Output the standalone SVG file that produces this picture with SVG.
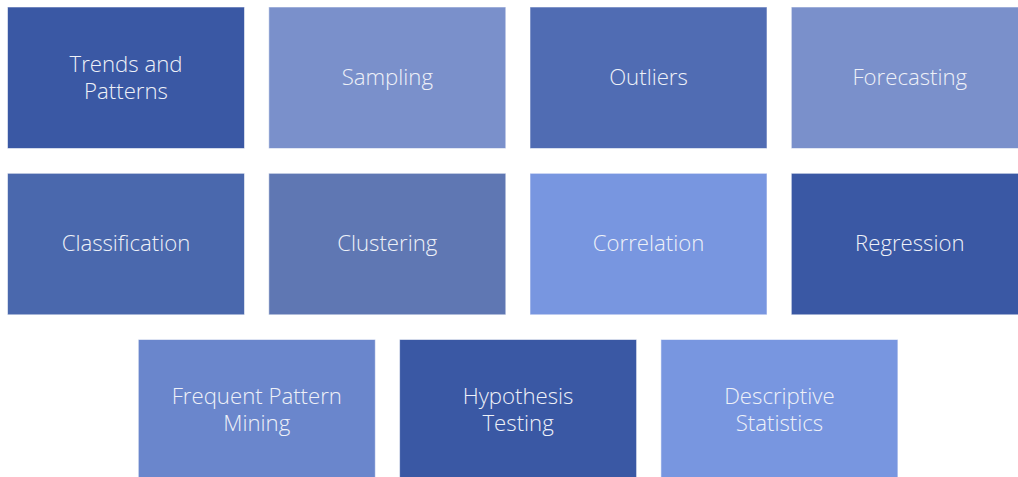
<svg xmlns="http://www.w3.org/2000/svg" width="1018" height="477" viewBox="0 0 1018 477">
  <style>
    .box { stroke: #ffffff; stroke-opacity: 0.55; stroke-width: 1; }
    .lbl { font-family: "Open Sans", "Liberation Sans", sans-serif; font-weight: 300; font-size: 22.2px; fill: #eef1f8; text-anchor: middle; }
  </style>
  <rect width="1018" height="477" fill="#ffffff"/>

  <!-- row 1 -->
  <g id="trends">
    <rect class="box" x="7.5" y="7" width="237" height="141.5" fill="#3a58a4"/>
    <text class="lbl" x="126" y="72">Trends and<tspan x="126" dy="27">Patterns</tspan></text>
  </g>
  <g id="sampling">
    <rect class="box" x="268.8" y="7" width="237" height="141.5" fill="#7a90cb"/>
    <text class="lbl" x="387.3" y="85">Sampling</text>
  </g>
  <g id="outliers">
    <rect class="box" x="530" y="7" width="237" height="141.5" fill="#506cb3"/>
    <text class="lbl" x="648.5" y="85">Outliers</text>
  </g>
  <g id="forecasting">
    <rect class="box" x="791.3" y="7" width="237" height="141.5" fill="#7a90cb"/>
    <text class="lbl" x="909.8" y="85">Forecasting</text>
  </g>

  <!-- row 2 -->
  <g id="classification">
    <rect class="box" x="7.5" y="173.3" width="237" height="141.5" fill="#4a68ad"/>
    <text class="lbl" x="126" y="251">Classification</text>
  </g>
  <g id="clustering">
    <rect class="box" x="268.8" y="173.3" width="237" height="141.5" fill="#5f77b3"/>
    <text class="lbl" x="387.3" y="251">Clustering</text>
  </g>
  <g id="correlation">
    <rect class="box" x="530" y="173.3" width="237" height="141.5" fill="#7896e0"/>
    <text class="lbl" x="648.5" y="251">Correlation</text>
  </g>
  <g id="regression">
    <rect class="box" x="791.3" y="173.3" width="237" height="141.5" fill="#3a58a4"/>
    <text class="lbl" x="909.8" y="251">Regression</text>
  </g>

  <!-- row 3 -->
  <g id="frequent-pattern-mining">
    <rect class="box" x="138.3" y="339.5" width="237" height="141.5" fill="#6a86cc"/>
    <text class="lbl" x="256.8" y="404">Frequent Pattern<tspan x="256.8" dy="27">Mining</tspan></text>
  </g>
  <g id="hypothesis-testing">
    <rect class="box" x="399.6" y="339.5" width="237" height="141.5" fill="#3a58a4"/>
    <text class="lbl" x="518.1" y="404">Hypothesis<tspan x="518.1" dy="27">Testing</tspan></text>
  </g>
  <g id="descriptive-statistics">
    <rect class="box" x="660.9" y="339.5" width="237" height="141.5" fill="#7896e0"/>
    <text class="lbl" x="779.4" y="404">Descriptive<tspan x="779.4" dy="27">Statistics</tspan></text>
  </g>

  <!-- no connectors in this diagram -->
  <g id="connectors"/>
</svg>
